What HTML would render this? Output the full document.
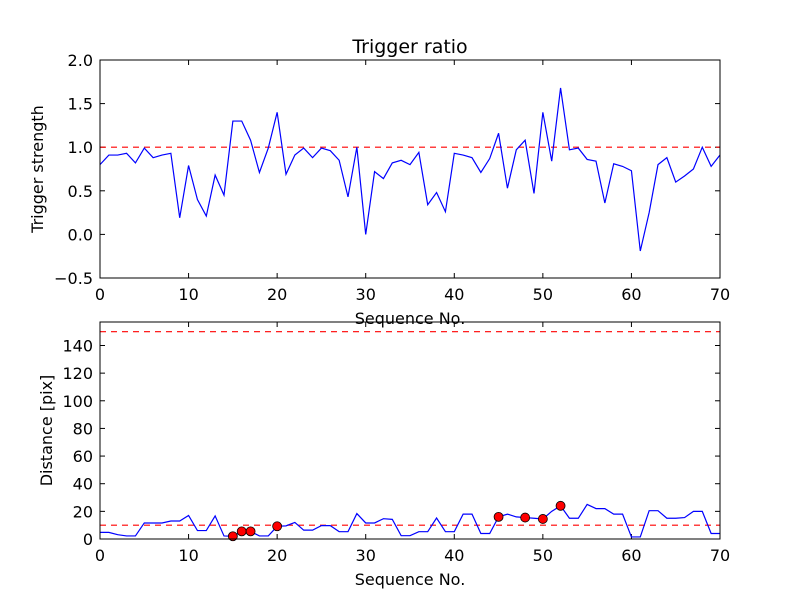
<!DOCTYPE html>
<html><head><meta charset="utf-8"><style>
body{margin:0;background:#fff}
svg{font-family:"DejaVu Sans","Liberation Sans",sans-serif}
</style></head><body>
<svg id="chart" width="800" height="600" xmlns="http://www.w3.org/2000/svg"></svg>
<script>
const seqTop=[];for(let i=0;i<=70;i++)seqTop.push(i);
const triggerStrength=[0.80,0.91,0.91,0.93,0.82,0.99,0.88,0.91,0.93,0.19,0.79,0.40,0.21,0.68,0.45,1.30,1.30,1.08,0.71,0.99,1.40,0.69,0.91,0.99,0.88,0.99,0.96,0.85,0.43,1.00,0.00,0.72,0.64,0.82,0.85,0.80,0.94,0.34,0.48,0.26,0.93,0.91,0.88,0.71,0.87,1.16,0.53,0.97,1.08,0.47,1.40,0.84,1.68,0.97,0.99,0.86,0.84,0.36,0.81,0.78,0.73,-0.19,0.25,0.80,0.88,0.60,0.67,0.75,1.00,0.78,0.91];
const distance=[4.8,4.8,3.1,2.2,2.2,11.6,11.6,11.6,13,13,17,6.1,6.1,16.7,2.2,2,5.5,5.5,2.2,2.2,9.2,9.5,12,6.4,6.4,9.7,9.7,5.3,5.3,18.4,11.6,11.6,14.7,14.2,2.4,2.4,5.3,5.3,15.2,5.3,5.3,18,18,4,4,16,18,16,15.5,15,14.5,20,24,15,15,25,22,22,18,18,1.5,1.5,20.5,20.5,15,15,15.5,20,20,4,4];
const markerIdx=[15,16,17,20,45,48,50,52];
const topThreshold=1.0;
const distThresholds=[10,150];
const xTicks=[0,10,20,30,40,50,60,70];
const topYTicks=[-0.5,0.0,0.5,1.0,1.5,2.0];
const botYTicks=[0,20,40,60,80,100,120,140];

const NS="http://www.w3.org/2000/svg";
const svg=document.getElementById('chart');
function mk(tag,attrs,parent,name){const e=document.createElementNS(NS,tag);for(const k in attrs)e.setAttribute(k,attrs[k]);


(parent||svg).appendChild(e);return e;}
const L=100,R=720;
const xs=v=>L+(v-0)/(70-0)*(R-L);
function panel(top,bot,ymin,ymax,yt,fmt,ylabel,name){
  const ys=v=>bot-(v-ymin)/(ymax-ymin)*(bot-top);
  const g=mk('g',{},svg,name);
  xTicks.forEach(t=>{const x=xs(t);
    mk('line',{x1:x,x2:x,y1:bot,y2:bot-5,stroke:'#000'},g,'x-tick');
    mk('line',{x1:x,x2:x,y1:top,y2:top+5,stroke:'#000'},g,'x-tick-top');
    const tx=mk('text',{x:x,y:bot+22,'font-size':16,'text-anchor':'middle'},g,'x-tick-label');tx.textContent=t;});
  yt.forEach(t=>{const y=ys(t);
    mk('line',{x1:L,x2:L+5,y1:y,y2:y,stroke:'#000'},g,'y-tick');
    mk('line',{x1:R,x2:R-5,y1:y,y2:y,stroke:'#000'},g,'y-tick-right');
    const tx=mk('text',{x:L-7,y:y+6,'font-size':16,'text-anchor':'end'},g,'y-tick-label');tx.textContent=fmt(t);});
  const xl=mk('text',{x:410,y:bot+46,'font-size':16,'text-anchor':'middle'},g,'x-axis-title');xl.textContent='Sequence No.';
  const cy=(top+bot)/2;
  const yl=mk('text',{x:0,y:0,'font-size':16,'text-anchor':'middle',transform:`translate(${ylabel[1]},${cy}) rotate(-90)`},g,'y-axis-title');yl.textContent=ylabel[0];
  return {g,ys};
}
const T=panel(60,278,-0.5,2.0,topYTicks,t=>t.toFixed(1).replace('-','\u2212'),['Trigger strength',43],'top-panel');
mk('line',{x1:L,x2:R,y1:T.ys(topThreshold),y2:T.ys(topThreshold),stroke:'red','stroke-dasharray':'6,5','stroke-width':1.2},T.g,'threshold-line');
mk('polyline',{points:triggerStrength.map((v,i)=>xs(seqTop[i])+','+T.ys(v)).join(' '),fill:'none',stroke:'blue','stroke-width':1.2},T.g,'trigger-strength-line');
mk('rect',{x:L,y:60,width:R-L,height:218,fill:'none',stroke:'#000'},T.g,'top-frame');
const tt=mk('text',{x:410,y:53,'font-size':19,'text-anchor':'middle'},svg,'chart-title');tt.textContent='Trigger ratio';
const B=panel(322,539,0,157,botYTicks,t=>t,['Distance [pix]',52],'bottom-panel');
distThresholds.forEach(d=>mk('line',{x1:L,x2:R,y1:B.ys(d),y2:B.ys(d),stroke:'red','stroke-dasharray':'6,5','stroke-width':1.2},B.g,'distance-threshold-line'));
mk('polyline',{points:distance.map((v,i)=>xs(seqTop[i])+','+B.ys(v)).join(' '),fill:'none',stroke:'blue','stroke-width':1.2},B.g,'distance-line');
markerIdx.forEach(i=>mk('circle',{cx:xs(seqTop[i]),cy:B.ys(distance[i]),r:4.5,fill:'red',stroke:'#000','stroke-width':0.8},B.g,'outlier-marker'));
mk('rect',{x:L,y:322,width:R-L,height:217,fill:'none',stroke:'#000'},B.g,'bottom-frame');
</script>
</body></html>
